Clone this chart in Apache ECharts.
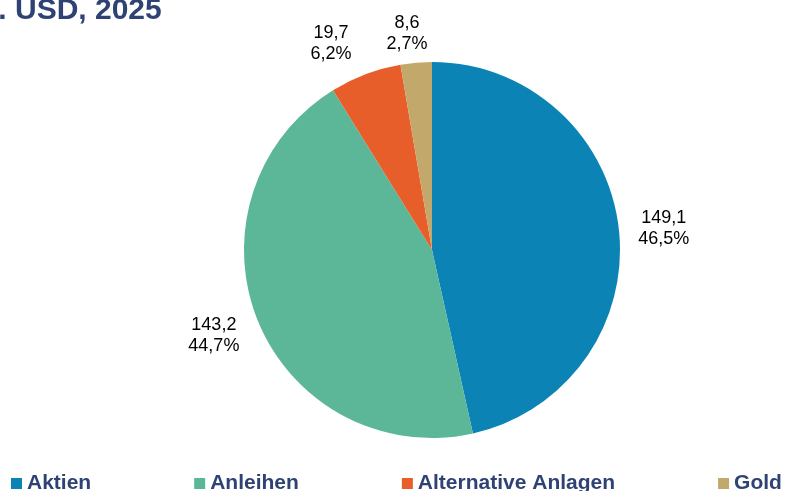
<!DOCTYPE html>
<html>
<head>
<meta charset="utf-8">
<script src="https://cdn.jsdelivr.net/npm/echarts@6/dist/echarts.min.js"></script>
<style>
  html, body { margin: 0; padding: 0; background: #fff; }
  #main { width: 787px; height: 491px; }
</style>
</head>
<body>
<div id="main"></div>
<script>
// Werte aus der Grafik
var categories = ['Aktien', 'Anleihen', 'Alternative Anlagen', 'Gold'];
var values = [149.1, 143.2, 19.7, 8.6];
var percents = [46.5, 44.7, 6.2, 2.7];
var colors = ['#0B84B5', '#5CB698', '#E85E2A', '#C3A86C'];
// kleine Verschiebungen der Beschriftungen (wie im Original)
var labelNudge = [[0, 1], [0, 10], [2, -18], [24, -16]];

function fmt(v) {
  return v.toFixed(1).replace('.', ',');
}

var chart = echarts.init(document.getElementById('main'));

var option = {
  backgroundColor: '#ffffff',
  color: colors,
  animation: false,
  title: {
    text: 'Bio. USD, 2025',
    left: -50,
    top: -4,
    padding: 0,
    textStyle: {
      fontFamily: 'Liberation Sans',
      fontWeight: 'bold',
      fontSize: 30,
      color: '#2E4373'
    }
  },
  legend: {
    left: 11,
    top: 473,
    padding: 0,
    itemWidth: 11,
    itemHeight: 11,
    itemGap: 103,
    icon: 'rect',
    textStyle: {
      fontFamily: 'Liberation Sans',
      fontWeight: 'bold',
      fontSize: 21,
      color: '#2E4373'
    },
    data: categories
  },
  series: [{
    type: 'pie',
    center: [432, 250],
    radius: 188,
    startAngle: 90,
    clockwise: true,
    avoidLabelOverlap: false,
    label: {
      show: true,
      position: 'outside',
      formatter: function (p) {
        return '{a|' + fmt(values[p.dataIndex]) + '}\n{a|' + fmt(percents[p.dataIndex]) + '%}';
      },
      rich: {
        a: {
          width: 54,
          align: 'center',
          fontFamily: 'Liberation Sans',
          fontSize: 18,
          lineHeight: 21,
          color: '#000'
        }
      }
    },
    labelLine: { show: false, length: 13, length2: 0 },
    labelLayout: function (params) {
      var n = labelNudge[params.dataIndex];
      return { dx: n[0], dy: n[1] };
    },
    data: categories.map(function (c, i) {
      return { name: c, value: values[i] };
    })
  }]
};

chart.setOption(option);
</script>
</body>
</html>
